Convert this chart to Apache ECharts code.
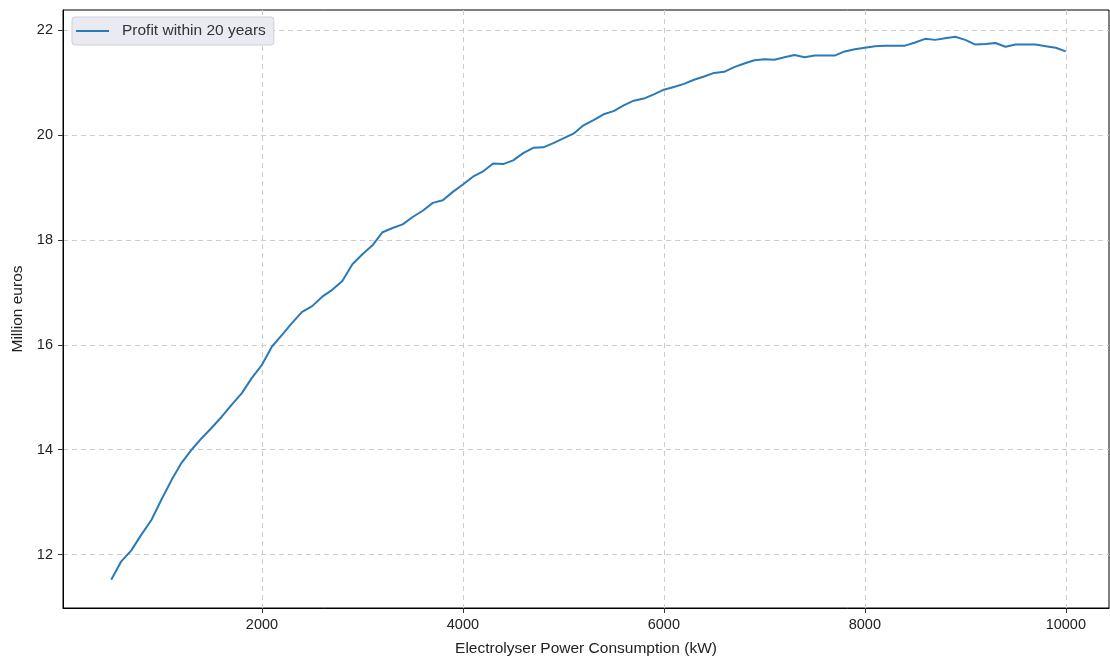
<!DOCTYPE html>
<html>
<head>
<meta charset="utf-8">
<script src="https://cdn.jsdelivr.net/npm/echarts@6/dist/echarts.min.js"></script>
<style>
	html, body { margin: 0; padding: 0; background: #fff; }
	#container { width: 1110px; height: 659px; }
</style>
</head>
<body>
<div id="container"></div>
<script>
	// electrolyser power (kW)
	var powerKW = [
		500, 600, 700, 800, 900, 1000, 1100, 1200, 1300, 1400,
		1500, 1600, 1700, 1800, 1900, 2000, 2100, 2200, 2300, 2400,
		2500, 2600, 2700, 2800, 2900, 3000, 3100, 3200, 3300, 3400,
		3500, 3600, 3700, 3800, 3900, 4000, 4100, 4200, 4300, 4400,
		4500, 4600, 4700, 4800, 4900, 5000, 5100, 5200, 5300, 5400,
		5500, 5600, 5700, 5800, 5900, 6000, 6100, 6200, 6300, 6400,
		6500, 6600, 6700, 6800, 6900, 7000, 7100, 7200, 7300, 7400,
		7500, 7600, 7700, 7800, 7900, 8000, 8100, 8200, 8300, 8400,
		8500, 8600, 8700, 8800, 8900, 9000, 9100, 9200, 9300, 9400,
		9500, 9600, 9700, 9800, 9900, 10000
	];
	// profit within 20 years (million euros)
	var profit = [
		11.52, 11.87, 12.08, 12.38, 12.66, 13.05, 13.42, 13.75, 14.00, 14.22,
		14.42, 14.63, 14.86, 15.08, 15.37, 15.62, 15.97, 16.19, 16.42, 16.63,
		16.74, 16.92, 17.05, 17.22, 17.54, 17.73, 17.90, 18.15, 18.23, 18.30,
		18.44, 18.56, 18.71, 18.76, 18.92, 19.06, 19.21, 19.31, 19.46, 19.45,
		19.52, 19.66, 19.76, 19.77, 19.85, 19.94, 20.03, 20.19, 20.29, 20.40,
		20.46, 20.57, 20.66, 20.70, 20.78, 20.87, 20.92, 20.98, 21.06, 21.12,
		21.19, 21.21, 21.30, 21.37, 21.43, 21.45, 21.44, 21.49, 21.53, 21.49,
		21.52, 21.52, 21.52, 21.60, 21.64, 21.67, 21.70, 21.71, 21.71, 21.71,
		21.77, 21.84, 21.82, 21.85, 21.88, 21.82, 21.73, 21.74, 21.76, 21.69,
		21.73, 21.73, 21.73, 21.70, 21.67, 21.60
	];
	var xTicks = [2000, 4000, 6000, 8000, 10000];
	var yTicks = [12, 14, 16, 18, 20, 22];

	var fontName = "'Liberation Sans', Arial, sans-serif";

	var points = powerKW.map(function(x, i){ return [x, profit[i]]; });

	var option = {
		animation: false,
		textStyle: { fontFamily: fontName },
		grid: {
			left: 63,
			top: 10,
			right: 1,
			bottom: 51,
			containLabel: false,
			outerBoundsMode: 'none',
			show: true,
			borderColor: '#000',
			borderWidth: 1,
			backgroundColor: 'transparent'
		},
		legend: {
			left: 72,
			top: 17,
			padding: [6, 8, 6, 4],
			icon: 'rect',
			itemWidth: 33,
			itemHeight: 2,
			backgroundColor: '#eaeaf2',
			borderColor: '#cfcfd6',
			borderWidth: 1,
			borderRadius: 3,
			textStyle: { fontSize: 15.5, color: '#333', fontFamily: fontName, padding: [0, 0, 0, 8] },
			data: ['Profit within 20 years']
		},
		xAxis: {
			type: 'value',
			min: 20,
			max: 10430,
			name: 'Electrolyser Power Consumption (kW)',
			nameLocation: 'middle',
			nameGap: 33,
			nameTextStyle: { fontSize: 15.5, color: '#222' },
			axisLine: { show: true, lineStyle: { color: '#000', width: 1 } },
			axisTick: { show: true, length: 5, customValues: xTicks, lineStyle: { color: '#333' } },
			axisLabel: {
				customValues: xTicks,
				fontSize: 14.5,
				color: '#222',
				margin: 9,
				formatter: function(v){ return String(v); }
			},
			splitLine: { show: true, lineStyle: { color: '#cccccc', type: [5, 4], width: 1 } }
		},
		yAxis: {
			type: 'value',
			min: 10.98,
			max: 22.39,
			name: 'Million euros',
			nameLocation: 'middle',
			nameGap: 37,
			nameTextStyle: { fontSize: 15.5, color: '#222' },
			axisLine: { show: true, lineStyle: { color: '#000', width: 1 } },
			axisTick: { show: true, length: 5, customValues: yTicks, lineStyle: { color: '#333' } },
			axisLabel: {
				customValues: yTicks,
				fontSize: 14.5,
				color: '#222',
				margin: 10,
				formatter: function(v){ return String(v); }
			},
			splitLine: { show: true, lineStyle: { color: '#cccccc', type: [5, 4], width: 1 } }
		},
		series: [
			{
				name: 'Profit within 20 years',
				type: 'line',
				symbol: 'none',
				data: points,
				lineStyle: { color: '#2a7ab8', width: 2 },
				itemStyle: { color: '#2a7ab8' }
			}
		]
	};

	var myChart = echarts.init(document.getElementById('container'));
	myChart.setOption(option);
</script>
</body>
</html>
